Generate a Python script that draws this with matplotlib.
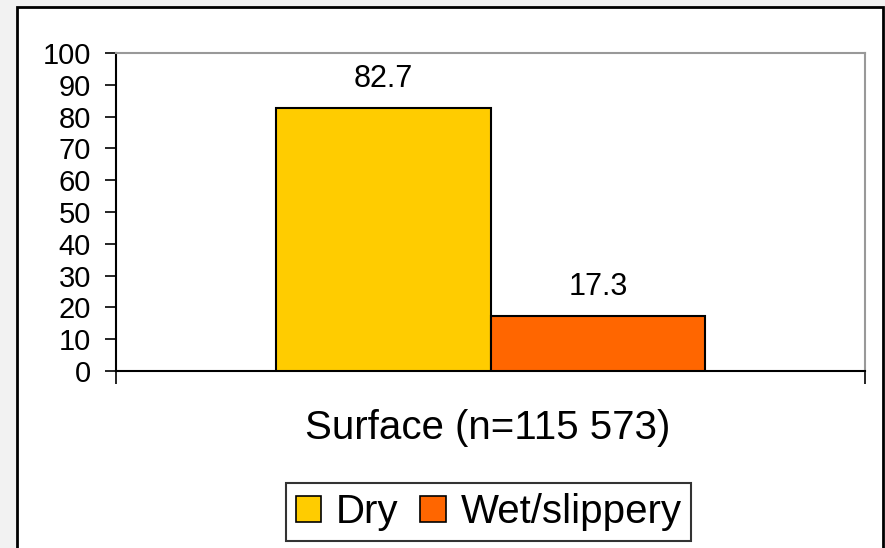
import matplotlib.pyplot as plt
from matplotlib.patches import Rectangle, Patch

plt.rcParams['font.family'] = ['Liberation Sans', 'DejaVu Sans']

# data
categories = ['Dry', 'Wet/slippery']
values = [82.7, 17.3]
colors = ['#FFCC00', '#FF6600']
axis_title = 'Surface (n=115 573)'
y_ticks = list(range(0, 101, 10))

W, H = 885, 548
fig = plt.figure(figsize=(W / 100, H / 100), dpi=100)
fig.patch.set_facecolor('#f2f2f2')

# white chart frame with black border
frame = Rectangle((17 / W, -0.05), (883 - 17) / W, (548 - 7) / H + 0.05,
                  transform=fig.transFigure, facecolor='white',
                  edgecolor='black', linewidth=2, zorder=0)
fig.add_artist(frame)

ax = fig.add_axes([116 / W, 1 - 371 / H, (865 - 116) / W, (371 - 53) / H])
ax.set_facecolor('white')

bar_w = 0.287
offsets = [-bar_w / 2, bar_w / 2]
for off, val, col in zip(offsets, values, colors):
    ax.bar(off, val, width=bar_w, color=col, edgecolor='black', linewidth=1.5, zorder=3)
    ax.annotate(f"{val:.1f}", (off, val), xytext=(0, 21), textcoords='offset points',
                ha='center', va='center', fontsize=22)

ax.set_xlim(-0.5, 0.5)
ax.set_ylim(0, 100)
ax.set_yticks(y_ticks)
ax.set_xticks([-0.5, 0.5])
ax.set_xticklabels([])
ax.tick_params(axis='y', direction='out', length=8, width=1.2, pad=10, labelsize=21)
ax.tick_params(axis='x', direction='out', length=9, width=1.2)

for s in ['left', 'bottom']:
    ax.spines[s].set_color('black')
    ax.spines[s].set_linewidth(1.5)
for s in ['top', 'right']:
    ax.spines[s].set_color('#999999')
    ax.spines[s].set_linewidth(1.5)

fig.text(488 / W, 1 - 428 / H, axis_title, ha='center', va='center', fontsize=29)

handles = [Patch(facecolor=c, edgecolor='black', linewidth=1.2) for c in colors]
leg = fig.legend(handles, categories, loc='center', bbox_to_anchor=(488.5 / W, 1 - 512 / H),
                 ncol=2, fontsize=29, frameon=True, fancybox=False,
                 handlelength=0.64, handleheight=0.62, handletextpad=0.36,
                 columnspacing=0.54, borderpad=0.25, borderaxespad=0)
leg.get_frame().set_edgecolor('black')
leg.get_frame().set_linewidth(1.5)

fig.savefig('out.png', dpi=100, facecolor=fig.get_facecolor())
